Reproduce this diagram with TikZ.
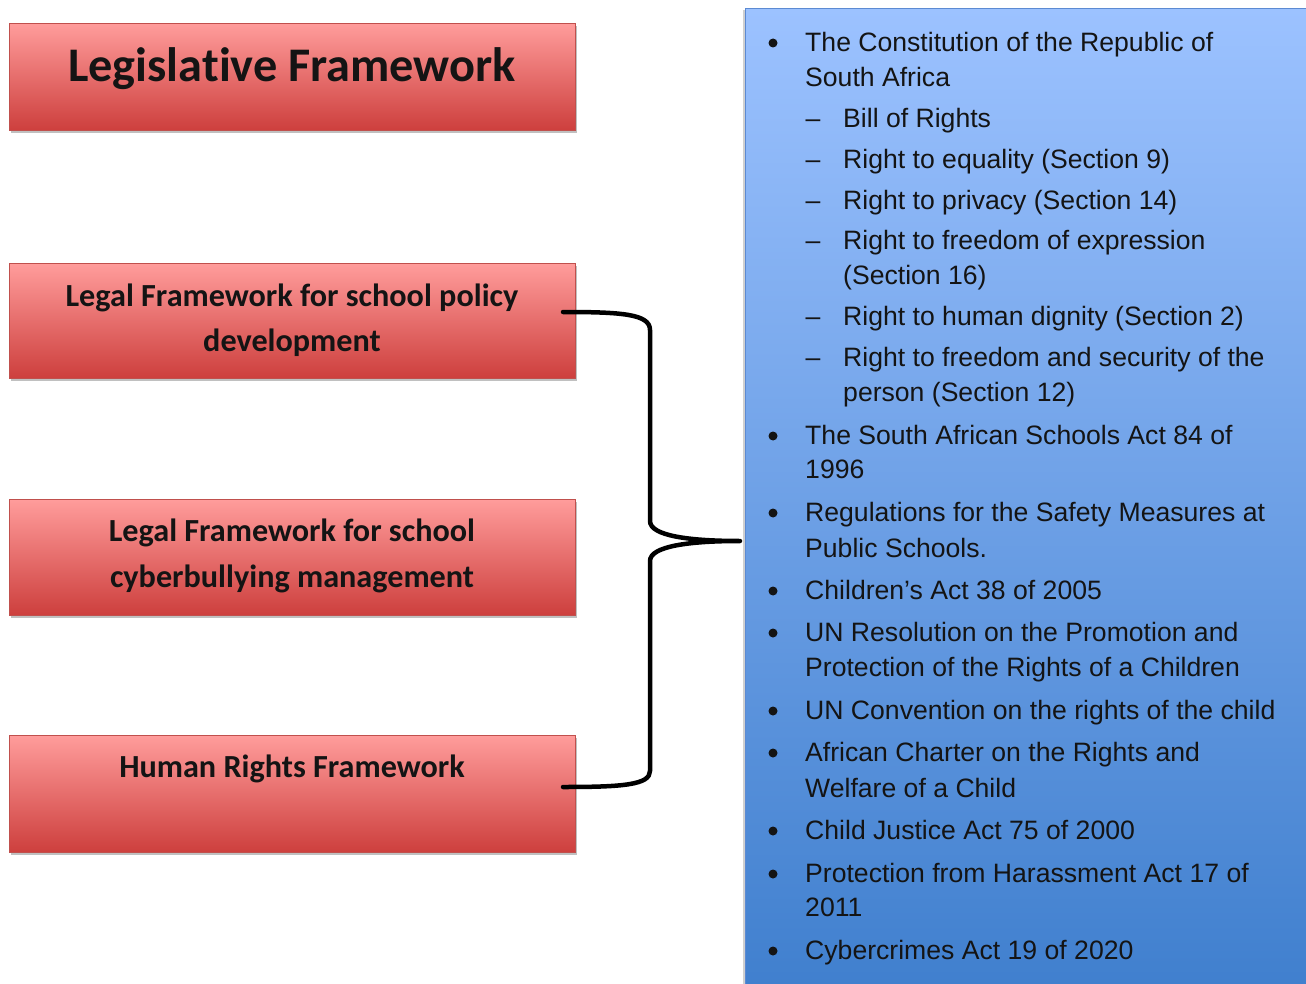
\documentclass[tikz,border=0pt]{standalone}
\usepackage{fontspec}
\setmainfont{Liberation Sans}
\newfontfamily\boxfont[Ligatures=NoCommon]{Carlito}
\usetikzlibrary{shadows}

\definecolor{redtop}{RGB}{255,156,155}
\definecolor{redmid}{RGB}{238,124,122}
\definecolor{redbot}{RGB}{205,63,61}
\definecolor{redline}{RGB}{192,80,77}
\definecolor{bluetop}{RGB}{156,194,255}
\definecolor{bluebot}{RGB}{62,126,205}
\definecolor{blueline}{RGB}{92,138,210}
\definecolor{ink}{RGB}{20,20,20}

\tikzset{
  redbox/.style={rectangle, anchor=north west, inner sep=0pt,
    minimum width=566pt, draw=redline, line width=0.8pt,
    top color=redtop, middle color=redmid, bottom color=redbot,
    drop shadow={shadow xshift=1.5pt, shadow yshift=-3pt, opacity=0.35, fill=black!70}},
  titletext/.style={anchor=base, inner sep=0pt, text=ink, font=\boxfont\bfseries\fontsize{48.3pt}{56pt}\selectfont},
  boxtext/.style={anchor=base, inner sep=0pt, text=ink, font=\boxfont\bfseries\fontsize{32.2pt}{40pt}\selectfont},
  listtext/.style={anchor=base west, inner sep=0pt, font=\fontsize{26.6pt}{32pt}\selectfont, text=ink},
  dashmark/.style={anchor=base, inner sep=0pt, font=\fontsize{26.6pt}{32pt}\selectfont, text=ink},
  dotmark/.style={circle, fill=ink, inner sep=0pt, minimum size=9pt},
  brace/.style={line width=4.5pt, line cap=round, line join=round}
}

\begin{document}
\begin{tikzpicture}[x=1pt, y=-1pt]
\useasboundingbox (0,0) rectangle (1306,984);
\fill[white] (0,0) rectangle (1306,984);

% Blue list panel on the right
\node[rectangle, anchor=north west, inner sep=0pt, minimum width=600pt, minimum height=1000pt,
  draw=blueline, line width=1pt, top color=bluetop, bottom color=bluebot,
  drop shadow={shadow xshift=-3pt, shadow yshift=-2pt, opacity=0.3, fill=black!60}]
  (panel) at (745,8) {};

% Red framework boxes
\node[redbox, minimum height=107pt] (title) at (9,23) {};
\node[redbox, minimum height=115pt] (policy) at (9,263) {};
\node[redbox, minimum height=116pt] (cyber) at (9,499) {};
\node[redbox, minimum height=117pt] (human) at (9,735) {};

\node[titletext] (titleT) at (292,82) {Legislative Framework};
\node[boxtext] (policyA) at (292,306) {Legal Framework for school policy};
\node[boxtext] (policyB) at (292,351) {development};
\node[boxtext] (cyberA) at (292,541) {Legal Framework for school};
\node[boxtext] (cyberB) at (292,587) {cyberbullying management};
\node[boxtext] (humanA) at (292,777) {Human Rights Framework};

% Brace joining the three boxes to the list
\coordinate (bstart) at (563,312);
\coordinate (bend) at (563,787);
\coordinate (tip) at (740,541);
\draw[brace] (bstart) .. controls (622,312) and (650,314) .. (650,330)
  -- (650,521) .. controls (650,536) and (690,541) .. (tip)
  .. controls (690,541) and (650,546) .. (650,561)
  -- (650,771) .. controls (650,785) and (622,787) .. (bend);

% List bullets and sub-item dashes
\foreach \y in {51.5,444.5,521.5,599.5,641.5,719.5,761.5,839.5,882.5,959.5}
  \node[dotmark] at (773,\y-8.5) {};
\foreach \y in {127.5,168.5,209.5,249.5,325.5,366.5}
  \node[dashmark] at (813,\y) {–};

% List entries
\node[listtext] (l1) at (805,51.5) {The Constitution of the Republic of};
\node[listtext] (l2) at (805,86.5) {South Africa};
\node[listtext] (l3) at (843,127.5) {Bill of Rights};
\node[listtext] (l4) at (843,168.5) {Right to equality (Section 9)};
\node[listtext] (l5) at (843,209.5) {Right to privacy (Section 14)};
\node[listtext] (l6) at (843,249.5) {Right to freedom of expression};
\node[listtext] (l7) at (843,284.5) {(Section 16)};
\node[listtext] (l8) at (843,325.5) {Right to human dignity (Section 2)};
\node[listtext] (l9) at (843,366.5) {Right to freedom and security of the};
\node[listtext] (l10) at (843,401.5) {person (Section 12)};
\node[listtext] (l11) at (805,444.5) {The South African Schools Act 84 of};
\node[listtext] (l12) at (805,478.5) {1996};
\node[listtext] (l13) at (805,521.5) {Regulations for the Safety Measures at};
\node[listtext] (l14) at (805,557.5) {Public Schools.};
\node[listtext] (l15) at (805,599.5) {Children’s Act 38 of 2005};
\node[listtext] (l16) at (805,641.5) {UN Resolution on the Promotion and};
\node[listtext] (l17) at (805,676.5) {Protection of the Rights of a Children};
\node[listtext] (l18) at (805,719.5) {UN Convention on the rights of the child};
\node[listtext] (l19) at (805,761.5) {African Charter on the Rights and};
\node[listtext] (l20) at (805,797.5) {Welfare of a Child};
\node[listtext] (l21) at (805,839.5) {Child Justice Act 75 of 2000};
\node[listtext] (l22) at (805,882.5) {Protection from Harassment Act 17 of};
\node[listtext] (l23) at (805,916.5) {2011};
\node[listtext] (l24) at (805,959.5) {Cybercrimes Act 19 of 2020};
\end{tikzpicture}
\end{document}
